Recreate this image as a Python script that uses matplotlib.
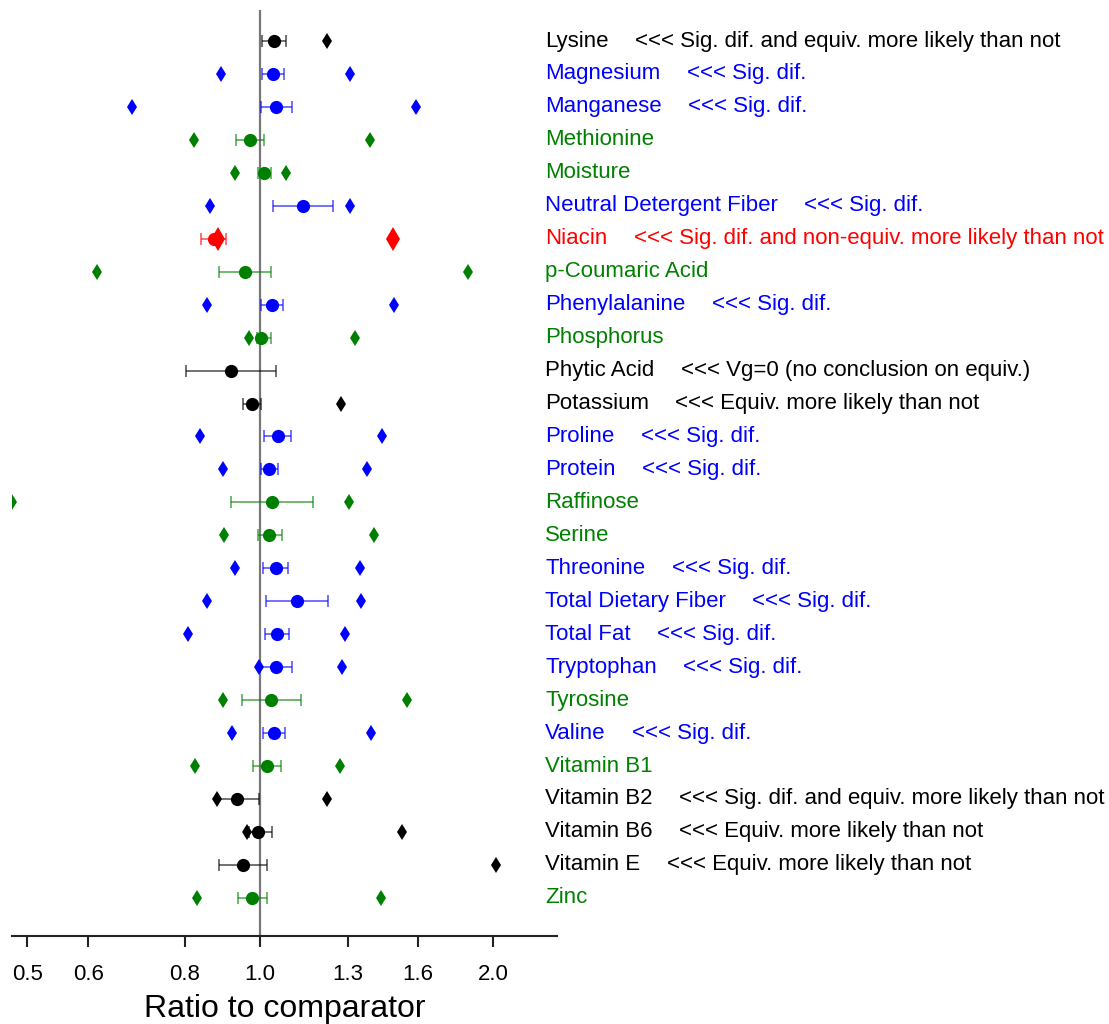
import numpy as np
import matplotlib
matplotlib.use("Agg")
import matplotlib.pyplot as plt
from matplotlib.ticker import FixedLocator, FixedFormatter, NullLocator

plt.rcParams['font.family'] = ['Liberation Sans', 'DejaVu Sans']

# 1. Data (ratio to comparator, log axis)
names = ['Lysine', 'Magnesium', 'Manganese', 'Methionine', 'Moisture',
         'Neutral Detergent Fiber', 'Niacin', 'p-Coumaric Acid', 'Phenylalanine',
         'Phosphorus', 'Phytic Acid', 'Potassium', 'Proline', 'Protein',
         'Raffinose', 'Serine', 'Threonine', 'Total Dietary Fiber', 'Total Fat',
         'Tryptophan', 'Tyrosine', 'Valine', 'Vitamin B1', 'Vitamin B2',
         'Vitamin B6', 'Vitamin E', 'Zinc']

ratio = [1.042, 1.038, 1.050, 0.971, 1.012, 1.136, 0.872, 0.955, 1.036,
         1.002, 0.917, 0.976, 1.054, 1.026, 1.036, 1.028, 1.048, 1.117,
         1.053, 1.048, 1.034, 1.041, 1.021, 0.935, 0.995, 0.950, 0.977]
ci_low = [1.007, 1.007, 1.002, 0.932, 0.993, 1.040, 0.840, 0.885, 1.002,
          0.990, 0.803, 0.950, 1.013, 1.002, 0.917, 0.993, 1.010, 1.018,
          1.016, 0.997, 0.947, 1.008, 0.980, 0.879, 0.967, 0.886, 0.937]
ci_high = [1.079, 1.075, 1.099, 1.012, 1.032, 1.243, 0.903, 1.034, 1.070,
           1.034, 1.048, 1.004, 1.095, 1.054, 1.170, 1.066, 1.086, 1.223,
           1.090, 1.099, 1.129, 1.078, 1.065, 0.997, 1.036, 1.022, 1.020]

# equivalence limits (diamonds); nan where none is drawn
equiv_low = [np.nan, 0.890, 0.684, 0.822, 0.927, 0.862, 0.882, 0.616, 0.855,
             0.969, np.nan, np.nan, 0.837, 0.895, 0.478, 0.899, 0.927, 0.854,
             0.807, 0.997, 0.895, 0.920, 0.823, 0.879, 0.961, np.nan, 0.830]
equiv_high = [1.220, 1.307, 1.592, 1.387, 1.080, 1.307, 1.485, 1.857, 1.488,
              1.326, np.nan, 1.272, 1.436, 1.376, 1.304, 1.402, 1.346, 1.349,
              1.287, 1.276, 1.548, 1.392, 1.267, 1.220, 1.525, 2.015, 1.433]

colours = ['black', 'blue', 'blue', 'green', 'green', 'blue', 'red', 'green',
           'blue', 'green', 'black', 'black', 'blue', 'blue', 'green', 'green',
           'blue', 'blue', 'blue', 'blue', 'green', 'blue', 'green', 'black',
           'black', 'black', 'green']

notes = ['<<< Sig. dif. and equiv. more likely than not', '<<< Sig. dif.',
         '<<< Sig. dif.', '', '', '<<< Sig. dif.',
         '<<< Sig. dif. and non-equiv. more likely than not', '',
         '<<< Sig. dif.', '', '<<< Vg=0 (no conclusion on equiv.)',
         '<<< Equiv. more likely than not', '<<< Sig. dif.', '<<< Sig. dif.',
         '', '', '<<< Sig. dif.', '<<< Sig. dif.', '<<< Sig. dif.',
         '<<< Sig. dif.', '', '<<< Sig. dif.', '',
         '<<< Sig. dif. and equiv. more likely than not',
         '<<< Equiv. more likely than not', '<<< Equiv. more likely than not', '']

tick_values = [0.5, 0.6, 0.8, 1.0, 1.3, 1.6, 2.0]
tick_labels = ['0.5', '0.6', '0.8', '1.0', '1.3', '1.6', '2.0']

# 2. Figure
fig = plt.figure(figsize=(11.09, 10.24), dpi=100)
ax = fig.add_axes([0.0108, 0.0862, 0.4915, 0.9040])

ax.axvline(1.0, color='#777777', lw=1.6, zorder=1)

label_tf = matplotlib.transforms.blended_transform_factory(fig.transFigure,
                                                           ax.transData)

for i, name in enumerate(names):
    c = colours[i]
    big = (c == 'red')
    for d in (equiv_low[i], equiv_high[i]):
        if not np.isnan(d):
            ax.plot(d, i, marker='d', color=c, ms=12 if big else 8,
                    mew=0, zorder=2)
    ax.errorbar(ratio[i], i,
                xerr=[[ratio[i] - ci_low[i]], [ci_high[i] - ratio[i]]],
                fmt='none', ecolor=c, alpha=0.6, elinewidth=1.3,
                capsize=4, capthick=1.3, zorder=3)
    ax.plot(ratio[i], i, marker='o', color=c, ms=9.5, mew=0, zorder=4)

    label = fig.text(545 / 1109, i, name, color=c, fontsize=16, va='center',
                     transform=label_tf)
    if notes[i]:
        ax.annotate(notes[i], xy=(1, 0.5), xycoords=label,
                    xytext=(19, 0), textcoords='offset points',
                    color=c, fontsize=16, va='center', ha='left',
                    annotation_clip=False)

ax.set_xscale('log')
ax.set_xlim(0.478, 2.42)
ax.set_ylim(27.15, -0.94)

ax.xaxis.set_major_locator(FixedLocator(tick_values))
ax.xaxis.set_major_formatter(FixedFormatter(tick_labels))
ax.xaxis.set_minor_locator(NullLocator())
ax.set_yticks([])
ax.tick_params(axis='x', length=8, width=1.5, labelsize=16, pad=12,
               color='#222222')

for side in ('top', 'left', 'right'):
    ax.spines[side].set_visible(False)
ax.spines['bottom'].set_linewidth(1.5)
ax.spines['bottom'].set_color('#222222')

ax.set_xlabel('Ratio to comparator', fontsize=23, labelpad=7)

fig.savefig('out.png', dpi=100)
